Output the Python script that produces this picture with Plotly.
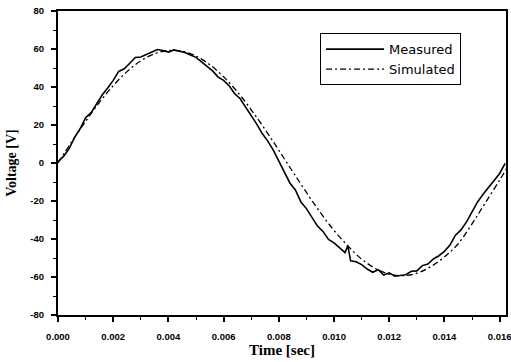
import plotly.graph_objects as go

# Measured waveform (time in s, voltage in V)
t_meas = [0.0, 0.0002, 0.0004, 0.0006, 0.0008, 0.0010, 0.0012, 0.0014, 0.0016, 0.0018,
          0.0020, 0.0022, 0.0024, 0.0026, 0.0028, 0.0030, 0.0032, 0.0034, 0.0036, 0.0038,
          0.0040, 0.0042, 0.0044, 0.0046, 0.0048, 0.0050, 0.0052, 0.0054, 0.0056, 0.0058,
          0.0060, 0.0062, 0.0064, 0.0066, 0.0068, 0.0070, 0.0072, 0.0074, 0.0076, 0.0078,
          0.0080, 0.0082, 0.0084, 0.0086, 0.0088, 0.0090, 0.0092, 0.0094, 0.0096, 0.0098,
          0.0100, 0.0102, 0.0104, 0.0105, 0.0106, 0.0108, 0.0110, 0.0112, 0.0114, 0.0116,
          0.0118, 0.0120, 0.0122, 0.0124, 0.0126, 0.0128, 0.0130, 0.0132, 0.0134, 0.0136,
          0.0138, 0.0140, 0.0142, 0.0144, 0.0146, 0.0148, 0.0150, 0.0152, 0.0154, 0.0156,
          0.0158, 0.0160, 0.0162]
v_meas = [0.7, 3.5, 7.5, 13.5, 18.0, 23.8, 26.5, 31.5, 35.8, 39.5,
          43.5, 48.2, 49.6, 52.5, 55.5, 55.8, 57.2, 58.3, 59.7, 59.2,
          58.4, 59.5, 59.0, 58.2, 56.8, 55.6, 53.2, 51.0, 48.5, 45.2,
          43.5, 40.6, 36.5, 33.8, 29.5, 24.8, 20.5, 15.5, 11.5, 6.8,
          1.2, -4.5, -10.5, -14.2, -20.5, -24.0, -28.5, -33.2, -36.0, -40.2,
          -42.0, -44.5, -47.2, -43.5, -51.5, -52.0, -53.5, -55.8, -57.5, -56.2,
          -59.0, -57.8, -59.6, -59.2, -58.8, -57.0, -56.8, -54.0, -53.2, -50.5,
          -48.8, -46.5, -43.2, -38.0, -35.2, -31.0, -26.0, -20.5, -16.5, -13.0,
          -9.5, -5.5, -0.2]

# Simulated waveform
t_sim = [0.0, 0.0005, 0.0010, 0.0015, 0.0020, 0.0025, 0.0030, 0.0035, 0.0040, 0.0045,
         0.0050, 0.0055, 0.0060, 0.0065, 0.0070, 0.0075, 0.0080, 0.0085, 0.0090, 0.0095,
         0.0100, 0.0105, 0.0110, 0.0115, 0.0120, 0.0125, 0.0130, 0.0135, 0.0140, 0.0145,
         0.0150, 0.0155, 0.0160, 0.01625]
v_sim = [0.0, 11.2, 21.9, 31.9, 40.7, 48.1, 53.8, 57.5, 59.2, 58.8,
         56.3, 51.7, 45.4, 37.4, 28.0, 17.7, 6.7, -4.5, -15.5, -26.0,
         -35.5, -43.6, -50.6, -55.5, -58.5, -59.3, -58.0, -54.6, -49.4, -42.5,
         -32.0, -20.5, -9.0, -3.0]

x_ticks = [0.000, 0.002, 0.004, 0.006, 0.008, 0.010, 0.012, 0.014, 0.016]
x_labels = ["0.000", "0.002", "0.004", "0.006", "0.008", "0.010", "0.012", "0.014", "0.016"]
y_ticks = [-80, -60, -40, -20, 0, 20, 40, 60, 80]
y_labels = ["-80", "-60", "-40", "-20", "0", "20", "40", "60", "80"]

fig = go.Figure()
fig.add_trace(go.Scatter(x=t_meas, y=v_meas, mode="lines", name="Measured",
                         line=dict(color="black", width=1.6)))
fig.add_trace(go.Scatter(x=t_sim, y=v_sim, mode="lines", name="Simulated", line_shape="spline",
                         line=dict(color="black", width=1.3, dash="6px,3px,2px,3px")))

tick_font = dict(family="Liberation Sans", size=9.5, color="black", weight="bold")

fig.update_layout(
    width=511, height=362,
    margin=dict(l=58, r=0, t=11, b=47),
    paper_bgcolor="white", plot_bgcolor="white",
    showlegend=True,
    legend=dict(x=0.585, y=0.927, xanchor="left", yanchor="top",
                bordercolor="black", borderwidth=1, bgcolor="white",
                font=dict(family="DejaVu Sans", size=13, color="black"),
                tracegroupgap=0, itemwidth=58),
    xaxis=dict(range=[0, 0.01623], tickvals=x_ticks, ticktext=x_labels,
               ticklabeloverflow="allow", ticklabelstandoff=7,
               showgrid=False, zeroline=False, showline=True, linecolor="black", linewidth=2,
               mirror=True, ticks="outside", ticklen=5, tickwidth=1.5, tickcolor="black",
               minor=dict(dtick=0.001, ticks="outside", ticklen=3, tickwidth=1, tickcolor="black"),
               tickfont=tick_font,
               title=dict(text="Time [sec]", standoff=0,
                          font=dict(family="Liberation Serif", size=15, color="black", weight="bold"))),
    yaxis=dict(range=[-80, 80], tickvals=y_ticks, ticktext=y_labels,
               ticklabelstandoff=5,
               showgrid=False, zeroline=False, showline=True, linecolor="black", linewidth=2,
               mirror=True, ticks="outside", ticklen=5, tickwidth=1.5, tickcolor="black",
               minor=dict(dtick=10, ticks="outside", ticklen=3, tickwidth=1, tickcolor="black"),
               tickfont=tick_font,
               title=dict(text="Voltage [V]", standoff=10,
                          font=dict(family="Liberation Serif", size=14, color="black", weight="bold"))),
)

fig.write_html("out.html")
